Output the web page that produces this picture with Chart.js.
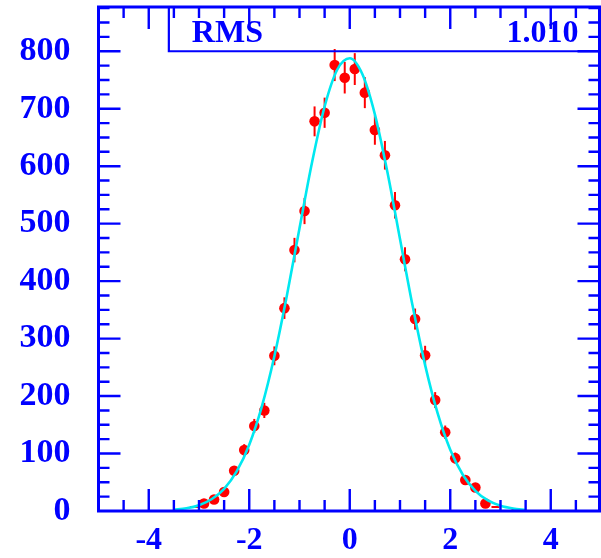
<!DOCTYPE html>
<html>
<head>
<meta charset="utf-8">
<script src="https://cdn.jsdelivr.net/npm/chart.js@4.4.1/dist/chart.umd.min.js"></script>
<style>
html,body{margin:0;padding:0;background:#ffffff;}
#wrap{width:601px;height:558px;position:relative;}
</style>
</head>
<body>
<div id="wrap"><canvas id="c" width="601" height="558"></canvas></div>
<script>
// ---- data ----
const binCenters = [-2.9,-2.7,-2.5,-2.3,-2.1,-1.9,-1.7,-1.5,-1.3,-1.1,-0.9,-0.7,-0.5,-0.3,-0.1,0.1,0.3,0.5,0.7,0.9,1.1,1.3,1.5,1.7,1.9,2.1,2.3,2.5,2.7];
const counts     = [13,20,33,70,106,148,175,270,353,454,522,678,693,776,754,769,728,663,619,532,438,334,271,193,137,92,54,41,13];
const errors     = [3.6,4.5,5.7,8.4,10.3,12.2,13.2,16.4,18.8,21.3,22.8,26,26.3,27.9,27.5,27.7,27,25.7,24.9,23.1,20.9,18.3,16.5,13.9,11.7,9.6,7.3,6.4,3.6];
const lowBinCenters = [-3.1, 2.9, 3.3];
const lowCounts     = [7, 7, 3];
const fitX = [-3.5,-3.25,-3,-2.75,-2.5,-2.25,-2,-1.75,-1.5,-1.25,-1,-0.75,-0.5,-0.25,0,0.25,0.5,0.75,1,1.25,1.5,1.75,2,2.25,2.5,2.75,3,3.25,3.5];
const fitY = [2.1,4.7,10.1,20.4,38.7,68.9,115.4,181.7,269.3,375.4,492.1,606.8,703.9,767.8,787.8,760.3,690.2,589.3,473.2,357.4,253.9,169.7,106.6,63.1,35.1,18.3,9.0,4.2,1.8];
const xTickValues = [-4,-2,0,2,4];
const xTickLabels = ['-4','-2','0','2','4'];
const yTickValues = [0,100,200,300,400,500,600,700,800];
const yTickLabels = ['0','100','200','300','400','500','600','700','800'];
const statNames  = ['RMS'];
const statValues = ['1.010'];

// ---- styles ----
const BLUE = '#0000ff';
const RED = '#ff0000';
const CYAN = '#00e8f0';
const FONT = "'Liberation Serif', 'Times New Roman', serif";

const errorBarPlugin = {
  id: 'errorBars',
  beforeDatasetsDraw(chart) {
    const ctx = chart.ctx, xs = chart.scales.x, ys = chart.scales.y;
    ctx.save();
    ctx.strokeStyle = RED;
    ctx.lineWidth = 2;
    binCenters.forEach((x, i) => {
      const px = xs.getPixelForValue(x);
      ctx.beginPath();
      ctx.moveTo(px, ys.getPixelForValue(counts[i] - errors[i]));
      ctx.lineTo(px, ys.getPixelForValue(counts[i] + errors[i]));
      ctx.stroke();
    });
    ctx.restore();
  }
};

const framePlugin = {
  id: 'frame',
  afterDraw(chart) {
    const ctx = chart.ctx, xs = chart.scales.x, ys = chart.scales.y;
    const a = chart.chartArea;
    const L = a.left, R = a.right - 1.5, T = a.top, B = a.bottom;
    const major = 22, minor = 11;
    ctx.save();
    ctx.strokeStyle = BLUE;
    ctx.lineWidth = 2.4;
    ctx.beginPath();
    for (let k = -10; k <= 10; k++) {
      const v = k * 0.5;
      if (v <= xs.min || v >= xs.max) continue;
      const px = xs.getPixelForValue(v);
      const len = (k % 4 === 0) ? major : minor;
      ctx.moveTo(px, B); ctx.lineTo(px, B - len);
      ctx.moveTo(px, T); ctx.lineTo(px, T + len);
    }
    for (let k = 1; k * 25 < ys.max; k++) {
      const v = k * 25;
      const py = ys.getPixelForValue(v);
      const len = (k % 4 === 0) ? major : minor;
      ctx.moveTo(L, py); ctx.lineTo(L + len, py);
      ctx.moveTo(R, py); ctx.lineTo(R - len, py);
    }
    ctx.stroke();
    ctx.lineWidth = 3;
    ctx.strokeRect(L, T, R - L, B - T);
    const boxLeft = xs.getPixelForValue(-3.6);
    const boxBottom = ys.getPixelForValue(800);
    ctx.lineWidth = 2.2;
    ctx.beginPath();
    ctx.moveTo(boxLeft, T);
    ctx.lineTo(boxLeft, boxBottom);
    ctx.lineTo(R, boxBottom);
    ctx.stroke();
    ctx.fillStyle = BLUE;
    ctx.font = "bold 32px " + FONT;
    ctx.textBaseline = 'alphabetic';
    ctx.textAlign = 'left';
    ctx.fillText(statNames[0], boxLeft + 23, 42);
    ctx.textAlign = 'right';
    ctx.fillText(statValues[0], R - 21, 42);
    ctx.restore();
  }
};

new Chart(document.getElementById('c'), {
  type: 'scatter',
  data: {
    datasets: [
      {
        label: 'fit', type: 'line',
        data: fitX.map((x, i) => ({x: x, y: fitY[i]})),
        borderColor: CYAN, borderWidth: 2.6, pointRadius: 0,
        cubicInterpolationMode: 'monotone', fill: false, order: 0
      },
      {
        label: 'data',
        data: binCenters.map((x, i) => ({x: x, y: counts[i]})),
        backgroundColor: RED, borderColor: RED, borderWidth: 0,
        pointRadius: 5.3, order: 1
      },
      {
        label: 'low',
        data: lowBinCenters.map((x, i) => ({x: x, y: lowCounts[i]})),
        pointStyle: 'line', pointRadius: 4, borderColor: RED, borderWidth: 2,
        backgroundColor: RED, order: 2
      }
    ]
  },
  options: {
    responsive: false,
    animation: false,
    devicePixelRatio: 1,
    layout: {autoPadding: false, padding: {left: 0, right: 0, top: 7, bottom: 0}},
    plugins: {legend: {display: false}, tooltip: {enabled: false}},
    scales: {
      x: {
        type: 'linear', min: -5, max: 5,
        grid: {display: false, drawTicks: false, tickLength: 0},
        border: {display: false},
        afterBuildTicks: s => { s.ticks = xTickValues.map(v => ({value: v})); },
        afterFit: s => { s.height = 47; s.paddingLeft = 0; s.paddingRight = 0; },
        ticks: {
          callback: (v, i) => xTickLabels[i],
          font: {family: FONT, size: 32, weight: 'bold'},
          color: BLUE, padding: 11, maxRotation: 0, autoSkip: false
        }
      },
      y: {
        type: 'linear', min: 0, max: 877,
        grid: {display: false, drawTicks: false, tickLength: 0},
        border: {display: false},
        afterBuildTicks: s => { s.ticks = yTickValues.map(v => ({value: v})); },
        afterFit: s => { s.width = 98.5; s.paddingTop = 0; s.paddingBottom = 0; },
        ticks: {
          callback: (v, i) => yTickLabels[i],
          font: {family: FONT, size: 34, weight: 'bold'},
          color: BLUE, padding: 28, autoSkip: false
        }
      }
    }
  },
  plugins: [errorBarPlugin, framePlugin]
});
</script>
</body>
</html>
